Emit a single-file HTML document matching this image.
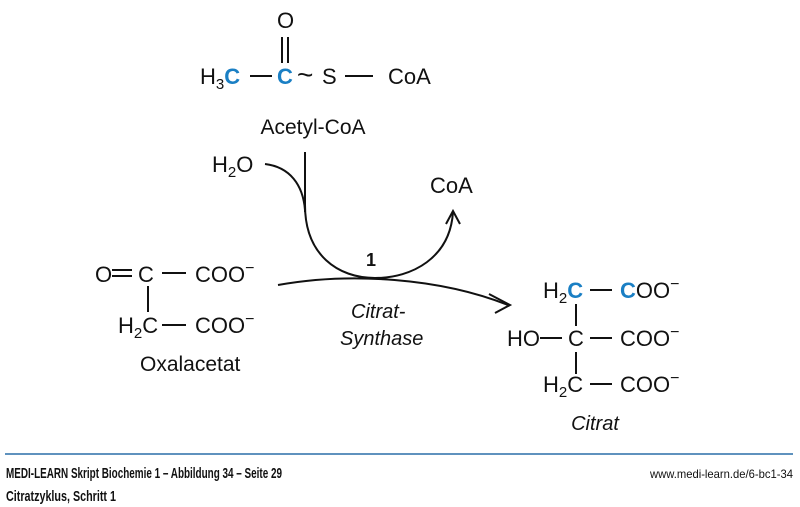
<!DOCTYPE html>
<html><head><meta charset="utf-8"><style>
body{margin:0;background:#fff;width:800px;height:507px;overflow:hidden}
svg{display:block}
text{font-family:"Liberation Sans",sans-serif;fill:#111}
.b{fill:#1a7fc4;font-weight:bold}
</style></head><body>
<svg width="800" height="507" viewBox="0 0 800 507" xmlns="http://www.w3.org/2000/svg">
<g stroke="#111" stroke-width="2" fill="none">
<line x1="282" y1="37" x2="282" y2="63"/><line x1="288" y1="37" x2="288" y2="63"/>
<line x1="250" y1="76" x2="272" y2="76"/>
<line x1="345" y1="76" x2="373" y2="76"/>
<line x1="305" y1="152" x2="305" y2="212"/>
<path d="M265 164 C290 167 303 185 305 210"/>
<path d="M305 205 C305 255 338 278 375 278 C412 278 450 258 453 212"/>
<path d="M446 224 L453 211 L460 224"/>
<path d="M278 285 C350 272 440 278 508 305"/>
<path d="M489 294 L510 305 L495 313"/>
<line x1="112" y1="270" x2="132" y2="270"/><line x1="112" y1="276" x2="132" y2="276"/>
<line x1="162" y1="273" x2="186" y2="273"/>
<line x1="148" y1="286" x2="148" y2="312"/>
<line x1="162" y1="325" x2="186" y2="325"/>
<line x1="590" y1="290" x2="612" y2="290"/>
<line x1="576" y1="304" x2="576" y2="326"/>
<line x1="540" y1="338" x2="562" y2="338"/>
<line x1="590" y1="338" x2="612" y2="338"/>
<line x1="576" y1="352" x2="576" y2="374"/>
<line x1="590" y1="384" x2="612" y2="384"/>
</g>
<g font-size="22">
<text x="277" y="28">O</text>
<text x="200" y="84">H<tspan font-size="15" dy="5">3</tspan><tspan class="b" dy="-5">C</tspan></text>
<text x="277" y="84" class="b">C</text>
<text x="297" y="84" font-size="28">~</text>
<text x="322" y="84">S</text>
<text x="388" y="84">CoA</text>
<text x="313" y="134" text-anchor="middle" font-size="21">Acetyl-CoA</text>
<text x="212" y="172">H<tspan font-size="15" dy="5">2</tspan><tspan dy="-5">O</tspan></text>
<text x="430" y="193">CoA</text>
<text x="366" y="266" font-weight="bold" font-size="18">1</text>
<text x="351" y="318" font-style="italic" font-size="20">Citrat-</text>
<text x="340" y="345" font-style="italic" font-size="20">Synthase</text>
<text x="95" y="282">O</text>
<text x="138" y="282">C</text>
<text x="195" y="282">COO<tspan font-size="16" dy="-9">−</tspan></text>
<text x="118" y="333">H<tspan font-size="15" dy="5">2</tspan><tspan dy="-5">C</tspan></text>
<text x="195" y="333">COO<tspan font-size="16" dy="-9">−</tspan></text>
<text x="140" y="371" font-size="21">Oxalacetat</text>
<text x="543" y="298">H<tspan font-size="15" dy="5">2</tspan><tspan class="b" dy="-5">C</tspan></text>
<text x="620" y="298"><tspan class="b">C</tspan>OO<tspan font-size="16" dy="-9">−</tspan></text>
<text x="507" y="346">HO</text>
<text x="568" y="346">C</text>
<text x="620" y="346">COO<tspan font-size="16" dy="-9">−</tspan></text>
<text x="543" y="392">H<tspan font-size="15" dy="5">2</tspan><tspan dy="-5">C</tspan></text>
<text x="620" y="392">COO<tspan font-size="16" dy="-9">−</tspan></text>
<text x="595" y="430" text-anchor="middle" font-style="italic" font-size="20">Citrat</text>
</g>
<line x1="5" y1="454" x2="793" y2="454" stroke="#2a6fa8" stroke-width="1.5"/>
<text x="6" y="478" font-size="15" font-weight="bold" textLength="276" lengthAdjust="spacingAndGlyphs">MEDI-LEARN Skript Biochemie 1 – Abbildung 34 – Seite 29</text>
<text x="793" y="478" font-size="12" text-anchor="end" textLength="143" lengthAdjust="spacingAndGlyphs">www.medi-learn.de/6-bc1-34</text>
<text x="6" y="501" font-size="15" font-weight="bold" textLength="110" lengthAdjust="spacingAndGlyphs">Citratzyklus, Schritt 1</text>
</svg>
</body></html>
